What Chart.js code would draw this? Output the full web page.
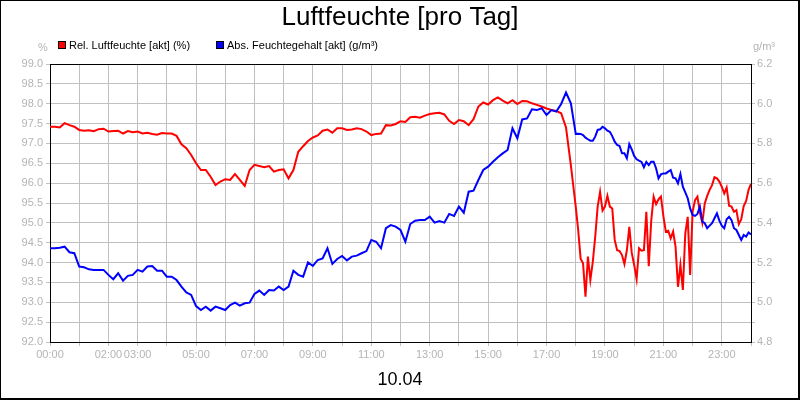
<!DOCTYPE html>
<html>
<head>
<meta charset="utf-8">
<script src="https://cdn.jsdelivr.net/npm/chart.js"></script>
<style>
  html, body { margin: 0; padding: 0; background: #fff; }
  #wrap { width: 800px; height: 400px; }
</style>
</head>
<body>
<div id="wrap"><canvas id="myChart" width="800" height="400"></canvas></div>
<script>
// sampling times in minutes after midnight (10 min until 18:00, then 5 min)
const times = [
  0,10,20,30,40,50,60,70,80,90,100,110,120,130,140,150,160,170,180,190,
  200,210,220,230,240,250,260,270,280,290,300,310,320,330,340,350,360,370,380,390,
  400,410,420,430,440,450,460,470,480,490,500,510,520,530,540,550,560,570,580,590,
  600,610,620,630,640,650,660,670,680,690,700,710,720,730,740,750,760,770,780,790,
  800,810,820,830,840,850,860,870,880,890,900,910,920,930,940,950,960,970,980,990,
  1000,1010,1020,1030,1040,1050,1060,1070,1080,
  1085,1090,1095,1100,1105,1110,1115,1120,1125,1130,1135,1140,1145,1150,1155,1160,1165,1170,
  1175,1180,1185,1190,1195,1200,1205,1210,1215,1220,1225,1230,1235,1240,1245,1250,1255,1260,
  1265,1270,1275,1280,1285,1290,1295,1300,1305,1310,1315,1320,1325,1330,1335,1340,1345,1350,
  1355,1360,1365,1370,1375,1380,1385,1390,1395,1400,1405,1410,1415,1420,1425,1430,1435,1440
];

// relative humidity in %
const relValues = [
  97.42, 97.42, 97.40, 97.51, 97.46, 97.42, 97.34, 97.32, 97.33, 97.31,
  97.36, 97.37, 97.30, 97.31, 97.32, 97.25, 97.31, 97.28, 97.30, 97.25,
  97.27, 97.24, 97.22, 97.26, 97.25, 97.25, 97.19, 96.98, 96.88, 96.71,
  96.50, 96.33, 96.33, 96.16, 95.95, 96.04, 96.10, 96.08, 96.23, 96.08,
  95.93, 96.33, 96.46, 96.43, 96.40, 96.43, 96.29, 96.33, 96.35, 96.12,
  96.33, 96.79, 96.93, 97.06, 97.15, 97.20, 97.32, 97.35, 97.27, 97.38,
  97.38, 97.34, 97.35, 97.38, 97.36, 97.30, 97.21, 97.24, 97.25, 97.46,
  97.45, 97.49, 97.56, 97.54, 97.66, 97.67, 97.65, 97.70, 97.74, 97.76,
  97.77, 97.73, 97.57, 97.49, 97.59, 97.56, 97.46, 97.61, 97.93, 98.03,
  97.98, 98.09, 98.16, 98.08, 98.01, 98.09, 97.99, 98.07, 98.06, 98.01,
  97.97, 97.93, 97.88, 97.84, 97.82, 97.76, 97.40, 96.45, 95.41,
  94.82, 94.10, 93.98, 93.14, 94.15, 93.56, 94.02, 94.65, 95.41, 95.78,
  95.31, 95.41, 95.68, 95.41, 95.36, 94.57, 94.31, 94.29, 94.19, 93.96,
  94.31, 94.90, 94.25, 93.94, 93.58, 94.36, 94.30, 94.31, 95.28, 93.91,
  95.05, 95.66, 95.47, 95.59, 95.66, 95.17, 94.78, 94.80, 94.61, 94.78,
  94.40, 93.39, 93.94, 93.31, 94.73, 95.15, 93.69, 95.28, 95.57, 95.66,
  95.26, 95.00, 95.49, 95.68, 95.83, 95.95, 96.15, 96.12, 96.04, 95.91,
  95.74, 95.89, 95.43, 95.41, 95.28, 95.32, 94.97, 95.09, 95.42, 95.55,
  95.83, 95.98
];

// absolute humidity in g/m³
const absValues = [
  5.272, 5.272, 5.275, 5.280, 5.252, 5.247, 5.180, 5.176, 5.166, 5.163,
  5.163, 5.163, 5.138, 5.116, 5.146, 5.109, 5.133, 5.138, 5.163, 5.154,
  5.180, 5.183, 5.159, 5.159, 5.129, 5.129, 5.112, 5.079, 5.050, 5.037,
  4.981, 4.961, 4.978, 4.958, 4.978, 4.970, 4.961, 4.986, 4.998, 4.983,
  4.995, 4.998, 5.042, 5.059, 5.037, 5.062, 5.059, 5.079, 5.062, 5.079,
  5.159, 5.138, 5.129, 5.201, 5.183, 5.213, 5.221, 5.272, 5.193, 5.218,
  5.233, 5.211, 5.230, 5.235, 5.247, 5.258, 5.314, 5.305, 5.272, 5.373,
  5.389, 5.381, 5.364, 5.305, 5.394, 5.411, 5.414, 5.414, 5.431, 5.401,
  5.409, 5.401, 5.445, 5.435, 5.482, 5.451, 5.557, 5.562, 5.616, 5.666,
  5.683, 5.708, 5.730, 5.750, 5.767, 5.876, 5.826, 5.921, 5.926, 5.972,
  5.968, 5.977, 5.943, 5.968, 5.960, 5.999, 6.056, 6.002, 5.848,
  5.849, 5.848, 5.842, 5.829, 5.821, 5.814, 5.814, 5.834, 5.868, 5.871,
  5.884, 5.876, 5.864, 5.859, 5.837, 5.809, 5.792, 5.787, 5.750, 5.750,
  5.725, 5.797, 5.770, 5.737, 5.720, 5.713, 5.707, 5.680, 5.707, 5.691,
  5.708, 5.708, 5.675, 5.624, 5.644, 5.649, 5.649, 5.658, 5.666, 5.628,
  5.624, 5.599, 5.646, 5.582, 5.554, 5.524, 5.473, 5.440, 5.435, 5.445,
  5.482, 5.406, 5.398, 5.373, 5.386, 5.398, 5.423, 5.448, 5.411, 5.386,
  5.373, 5.418, 5.431, 5.414, 5.373, 5.364, 5.339, 5.314, 5.339, 5.331,
  5.351, 5.341
];

// only these hours get a label on the x axis
const xTickLabels = ['00:00', '02:00', '03:00', '05:00', '07:00', '09:00', '11:00',
  '13:00', '15:00', '17:00', '19:00', '21:00', '23:00'];

const seriesNames = ['Rel. Luftfeuchte [akt] (%)', 'Abs. Feuchtegehalt [akt] (g/m³)'];
const titleText = 'Luftfeuchte [pro Tag]';
const dateText = '10.04';

const FONT = "'Liberation Sans', Arial, sans-serif";
const GRID = '#c0c0c0';
const TICK_TEXT = '#b4b4b4';

const hhmm = v => {
  const h = Math.floor(v / 60), m = v % 60;
  return String(h).padStart(2, '0') + ':' + String(m).padStart(2, '0');
};

// title, legend, units and frame drawn around the plot
const decorations = {
  id: 'decorations',
  afterDraw(chart) {
    const ctx = chart.ctx;
    const area = chart.chartArea;
    ctx.save();

    // top border of the plot
    ctx.strokeStyle = '#000';
    ctx.lineWidth = 1;
    ctx.beginPath();
    ctx.moveTo(area.left, Math.round(area.top) + 0.5);
    ctx.lineTo(area.right, Math.round(area.top) + 0.5);
    ctx.stroke();

    // outer frame
    ctx.strokeRect(0.5, 0.5, 798, 398);
    ctx.fillStyle = '#000';
    ctx.fillRect(798, 0, 2, 400);
    ctx.fillRect(0, 398, 800, 2);

    ctx.textBaseline = 'middle';
    ctx.textAlign = 'center';
    ctx.font = '26px ' + FONT;
    ctx.fillText(titleText, 400, 18);
    ctx.font = '18px ' + FONT;
    ctx.fillText(dateText, 400, 380);

    // units
    ctx.fillStyle = TICK_TEXT;
    ctx.font = '11px ' + FONT;
    ctx.textAlign = 'left';
    ctx.fillText('%', 38, 48);
    ctx.fillText('g/m³', 753, 47);

    // legend
    const legendX = [58, 216];
    chart.data.datasets.forEach((ds, i) => {
      const x = legendX[i];
      ctx.fillStyle = ds.borderColor;
      ctx.fillRect(x, 41, 8, 8);
      ctx.strokeStyle = '#000';
      ctx.strokeRect(x + 0.5, 41.5, 7, 7);
      ctx.fillStyle = '#000';
      ctx.fillText(ds.label, x + 11, 45.5);
    });
    ctx.restore();
  }
};

new Chart('myChart', {
  type: 'line',
  data: {
    datasets: [{
      label: seriesNames[0],
      data: times.map((t, i) => ({ x: t, y: relValues[i] })),
      borderColor: '#ff0000',
      backgroundColor: '#ff0000',
      borderWidth: 2,
      pointRadius: 0,
      tension: 0,
      yAxisID: 'y',
      order: 1
    }, {
      label: seriesNames[1],
      data: times.map((t, i) => ({ x: t, y: absValues[i] })),
      borderColor: '#0000ff',
      backgroundColor: '#0000ff',
      borderWidth: 2,
      pointRadius: 0,
      tension: 0,
      yAxisID: 'y1',
      order: 0
    }]
  },
  options: {
    responsive: false,
    animation: false,
    layout: { padding: { top: 64, left: 0, right: 0, bottom: 0 } },
    plugins: {
      legend: { display: false },
      tooltip: { enabled: false }
    },
    scales: {
      x: {
        type: 'linear',
        min: 0,
        max: 1440,
        grid: { color: GRID, tickLength: 4, tickColor: GRID },
        border: { color: '#000', width: 1 },
        ticks: {
          stepSize: 60,
          autoSkip: false,
          maxRotation: 0,
          padding: 2,
          color: TICK_TEXT,
          font: { family: FONT, size: 11 },
          callback: v => xTickLabels.includes(hhmm(v)) ? hhmm(v) : ''
        },
        afterFit: s => { s.height = 58; }
      },
      y: {
        position: 'left',
        min: 92,
        max: 99,
        grid: { color: GRID, tickLength: 4, tickColor: GRID },
        border: { color: '#000', width: 1 },
        ticks: {
          stepSize: 0.5,
          padding: 3,
          color: TICK_TEXT,
          font: { family: FONT, size: 11 },
          callback: v => v.toFixed(1)
        },
        afterFit: s => { s.width = 50; }
      },
      y1: {
        position: 'right',
        min: 4.8,
        max: 6.2,
        grid: { drawOnChartArea: false, tickLength: 4, tickColor: GRID },
        border: { color: '#000', width: 1 },
        ticks: {
          stepSize: 0.1,
          padding: 2,
          color: TICK_TEXT,
          font: { family: FONT, size: 11 },
          callback: v => Math.round(v * 10) % 2 === 0 ? v.toFixed(1) : ''
        },
        afterFit: s => { s.width = 49; }
      }
    }
  },
  plugins: [decorations]
});
</script>
</body>
</html>
